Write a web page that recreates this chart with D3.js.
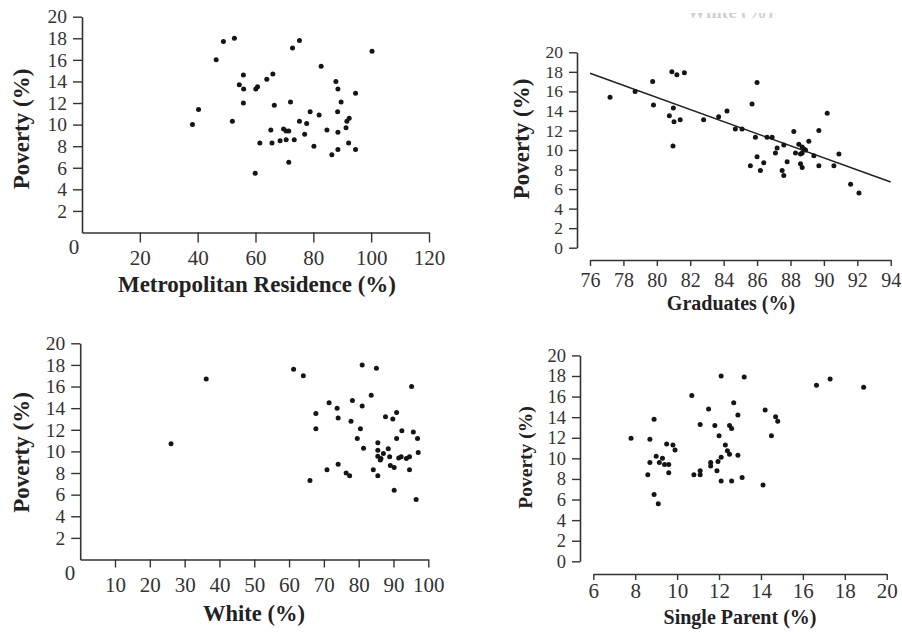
<!DOCTYPE html>
<html>
<head>
<meta charset="utf-8">
<script src="https://cdn.jsdelivr.net/npm/d3@7"></script>
<style>
  html, body { margin: 0; padding: 0; background: #fff; }
  svg { display: block; }
  .tick text { font-family: "Liberation Serif", "Times New Roman", serif; fill: #333; }
  .lab { font-family: "Liberation Serif", "Times New Roman", serif; font-weight: bold; fill: #222; }
</style>
</head>
<body>
<svg id="chart" width="902" height="632"></svg>
<script>
// ---------------- DATA ----------------
// Panel 1: Metropolitan Residence (%) vs Poverty (%)
const metroX = [38.2, 40.3, 46.4, 48.9, 52.7, 52.0, 54.4, 55.8, 55.9, 55.8, 60.1, 60.7, 59.9, 61.5, 63.9, 66.0, 65.3, 65.7, 66.5, 68.5, 69.7, 70.6, 71.5, 70.6, 71.5, 72.1, 72.8, 73.4, 75.2, 75.2, 77.7, 77.0, 78.9, 80.2, 82.0, 82.7, 84.7, 86.4, 87.8, 88.5, 88.4, 88.5, 88.5, 89.6, 91.3, 91.6, 92.4, 92.2, 94.6, 94.6, 100.3];
const metroY = [10.0, 11.4, 16.0, 17.7, 18.0, 10.3, 13.7, 14.6, 13.3, 12.0, 13.3, 13.5, 5.5, 8.3, 14.2, 14.7, 9.5, 8.3, 11.8, 8.5, 9.6, 9.4, 9.4, 8.6, 6.5, 12.1, 17.1, 8.6, 17.8, 10.3, 10.1, 9.1, 11.2, 8.0, 10.9, 15.4, 9.5, 7.2, 14.0, 13.3, 11.2, 9.3, 7.7, 12.1, 9.7, 10.3, 10.6, 8.3, 12.9, 7.7, 16.8];

// Panel 2: Graduates (%) vs Poverty (%), with fitted line
const gradX = [77.2, 78.7, 79.75, 79.8, 80.9, 81.2, 81.65, 80.75, 80.99, 81.03, 81.4, 80.97, 82.8, 83.7, 84.2, 84.7, 85.1, 85.7, 86.0, 85.6, 85.9, 86.0, 86.2, 86.4, 86.6, 86.9, 87.2, 87.1, 87.6, 87.5, 87.6, 87.8, 88.2, 88.3, 88.5, 88.6, 88.7, 88.7, 88.8, 88.6, 88.7, 88.9, 89.1, 89.4, 89.7, 89.7, 90.2, 90.6, 90.9, 91.6, 92.1];
const gradY = [15.4, 16.0, 17.0, 14.6, 18.0, 17.7, 17.9, 13.5, 14.3, 12.9, 13.1, 10.4, 13.1, 13.4, 14.0, 12.15, 12.15, 14.7, 16.9, 8.4, 11.3, 9.3, 7.9, 8.7, 11.3, 11.3, 10.2, 9.7, 10.5, 7.9, 7.4, 8.8, 11.9, 9.7, 10.6, 9.6, 10.3, 9.7, 10.1, 8.6, 8.2, 10.0, 10.9, 9.4, 12.0, 8.4, 13.75, 8.4, 9.6, 6.5, 5.6];
const gradFitX = [76, 94];
const gradFitY = [17.85, 6.72];

// Panel 3: White (%) vs Poverty (%)
const whiteX = [26.1, 36.2, 61.3, 64.1, 66.0, 67.7, 67.7, 70.9, 71.5, 73.8, 74.1, 74.1, 76.4, 77.4, 77.8, 78.2, 79.6, 80.5, 81.0, 81.0, 81.4, 83.6, 84.2, 85.1, 85.5, 85.5, 85.5, 85.5, 86.4, 87.1, 87.7, 88.5, 88.9, 89.1, 89.8, 90.2, 90.2, 90.9, 90.9, 91.5, 92.4, 92.2, 93.7, 94.6, 94.6, 95.2, 95.7, 96.5, 96.9, 97.1, 86.2];
const whiteY = [10.7, 16.7, 17.6, 17.0, 7.3, 13.5, 12.1, 8.3, 14.5, 14.0, 13.1, 8.8, 8.0, 7.75, 12.8, 14.7, 11.2, 12.1, 18.0, 14.2, 10.3, 15.2, 8.3, 17.7, 10.8, 10.1, 7.75, 9.55, 9.35, 9.8, 13.2, 10.25, 9.5, 8.7, 13.0, 8.5, 6.4, 13.6, 11.2, 9.4, 11.9, 9.5, 9.35, 9.5, 8.3, 16.0, 11.8, 5.55, 11.2, 9.9, 9.2];

// Panel 4: Single Parent (%) vs Poverty (%)
const singleX = [7.8, 8.6, 8.7, 8.7, 8.9, 8.9, 9.1, 9.0, 9.15, 9.3, 9.4, 9.6, 9.6, 9.5, 9.8, 9.9, 10.7, 10.8, 11.1, 11.1, 11.1, 11.5, 11.6, 11.6, 11.8, 11.95, 11.9, 12.0, 12.1, 12.1, 12.1, 12.3, 12.4, 12.5, 12.5, 12.6, 12.7, 12.6, 12.9, 12.9, 13.1, 13.2, 14.1, 14.2, 14.5, 14.7, 14.8, 16.65, 17.3, 18.9];
const singleY = [11.95, 8.4, 11.85, 9.6, 13.8, 6.5, 5.6, 10.2, 9.6, 10.0, 9.4, 9.4, 8.6, 11.4, 11.3, 10.8, 16.1, 8.4, 13.3, 8.8, 8.4, 14.8, 9.6, 9.25, 13.2, 9.7, 8.8, 12.2, 18.0, 10.1, 7.8, 11.3, 10.75, 10.4, 13.2, 12.9, 15.4, 7.8, 14.2, 10.3, 8.15, 17.9, 7.4, 14.7, 12.2, 14.05, 13.6, 17.1, 17.7, 16.9];

// Tick values
const metroTicks = [20, 40, 60, 80, 100, 120];
const gradTicks = [76, 78, 80, 82, 84, 86, 88, 90, 92, 94];
const whiteTicks = [10, 20, 30, 40, 50, 60, 70, 80, 90, 100];
const singleTicks = [6, 8, 10, 12, 14, 16, 18, 20];
const povertyTicksNoZero = [2, 4, 6, 8, 10, 12, 14, 16, 18, 20];
const povertyTicks = [0, 2, 4, 6, 8, 10, 12, 14, 16, 18, 20];

// Labels
const povertyLabel = "Poverty (%)";
const metroLabel = "Metropolitan Residence (%)";
const gradLabel = "Graduates (%)";
const whiteLabel = "White (%)";
const singleLabel = "Single Parent (%)";

// ---------------- DRAW ----------------
const svg = d3.select("#chart");

// faint clipped fragment at top of panel 2 (remnant of a cut-off label)
svg.append("clipPath").attr("id", "fragClip")
  .append("rect").attr("x", 640).attr("y", 13).attr("width", 180).attr("height", 5);
svg.append("text").attr("class", "lab")
  .attr("clip-path", "url(#fragClip)")
  .attr("x", 730).attr("y", 18).attr("text-anchor", "middle")
  .attr("font-size", 19).style("fill", "#d0d0d0").text(whiteLabel);

function panel(cfg) {
  const x = d3.scaleLinear().domain(cfg.xDomain).range(cfg.xRange);
  const y = d3.scaleLinear().domain([0, 20]).range(cfg.yRange);
  const g = svg.append("g");

  const xAxis = d3.axisBottom(x).tickValues(cfg.xTicks).tickFormat(d3.format("d"))
    .tickSize(cfg.xTickSize).tickSizeOuter(0).tickPadding(cfg.xPad);
  const gx = g.append("g").attr("transform", `translate(0,${cfg.xAxisY})`).call(xAxis);

  const yAxis = d3.axisLeft(y).tickValues(cfg.yTicks).tickFormat(d3.format("d"))
    .tickSize(cfg.yTickSize).tickSizeOuter(0).tickPadding(cfg.yPad);
  const gy = g.append("g").attr("transform", `translate(${cfg.yAxisX},0)`).call(yAxis);

  [gx, gy].forEach(a => {
    a.select(".domain").attr("stroke", "#333").attr("stroke-width", 1.6);
    a.selectAll(".tick line").attr("stroke", "#333").attr("stroke-width", 1.4);
  });
  gx.selectAll(".tick text").attr("font-size", cfg.xTickFont);
  gy.selectAll(".tick text").attr("font-size", cfg.yTickFont);

  if (cfg.zeroLabel) {
    g.append("text")
      .attr("x", cfg.zeroLabel[0]).attr("y", cfg.zeroLabel[1])
      .attr("text-anchor", "middle")
      .style("font-family", "'Liberation Serif', serif").style("fill", "#333")
      .attr("font-size", cfg.xTickFont).text(d3.format("d")(0));
  }

  if (cfg.fitX) {
    const line = d3.line().x(d => x(d[0])).y(d => y(d[1]));
    g.append("path").datum(d3.zip(cfg.fitX, cfg.fitY))
      .attr("d", line).attr("fill", "none")
      .attr("stroke", "#222").attr("stroke-width", 1.6);
  }

  g.append("g").selectAll("circle").data(d3.zip(cfg.xs, cfg.ys)).join("circle")
    .attr("cx", d => x(d[0])).attr("cy", d => y(d[1]))
    .attr("r", 2.5).attr("fill", "#151515");

  g.append("text").attr("class", "lab")
    .attr("x", cfg.xLabelPos[0]).attr("y", cfg.xLabelPos[1])
    .attr("text-anchor", "middle").attr("font-size", cfg.xLabelFont)
    .text(cfg.xLabel);

  g.append("text").attr("class", "lab")
    .attr("transform", `translate(${cfg.yLabelPos[0]},${cfg.yLabelPos[1]}) rotate(-90)`)
    .attr("text-anchor", "middle").attr("font-size", cfg.yLabelFont)
    .text(povertyLabel);
}

panel({
  xs: metroX, ys: metroY, xDomain: [0, 120], xRange: [82, 429], yRange: [232.5, 16.7],
  xAxisY: 232.5, yAxisX: 82, xTicks: metroTicks, yTicks: povertyTicksNoZero,
  xTickSize: 10, xPad: 8, yTickSize: 9, yPad: 6, xTickFont: 21, yTickFont: 19.5,
  zeroLabel: [74, 254],
  xLabel: metroLabel, xLabelPos: [257, 292], xLabelFont: 23,
  yLabelPos: [29, 129], yLabelFont: 23
});

panel({
  xs: gradX, ys: gradY, xDomain: [76, 94], xRange: [590, 890.7], yRange: [247.7, 52.3],
  xAxisY: 260, yAxisX: 577, xTicks: gradTicks, yTicks: povertyTicks,
  xTickSize: 6, xPad: 7, yTickSize: 8, yPad: 6, xTickFont: 20, yTickFont: 17.5,
  fitX: gradFitX, fitY: gradFitY,
  xLabel: gradLabel, xLabelPos: [731, 310], xLabelFont: 20,
  yLabelPos: [529, 139], yLabelFont: 23
});

panel({
  xs: whiteX, ys: whiteY, xDomain: [0, 100], xRange: [80.2, 428.3], yRange: [559.5, 343.3],
  xAxisY: 559.5, yAxisX: 80.2, xTicks: whiteTicks, yTicks: povertyTicksNoZero,
  xTickSize: 8, xPad: 10, yTickSize: 9, yPad: 6, xTickFont: 21, yTickFont: 19.5,
  zeroLabel: [70, 580],
  xLabel: whiteLabel, xLabelPos: [254, 621], xLabelFont: 22.5,
  yLabelPos: [29, 452.5], yLabelFont: 23
});

panel({
  xs: singleX, ys: singleY, xDomain: [6, 20], xRange: [593.3, 886.7], yRange: [561.3, 355.4],
  xAxisY: 574, yAxisX: 580, xTicks: singleTicks, yTicks: povertyTicks,
  xTickSize: 6, xPad: 3, yTickSize: 8, yPad: 6, xTickFont: 21, yTickFont: 18.5,
  xLabel: singleLabel, xLabelPos: [740, 624], xLabelFont: 20,
  yLabelPos: [532, 457.5], yLabelFont: 19.5
});
</script>
</body>
</html>
